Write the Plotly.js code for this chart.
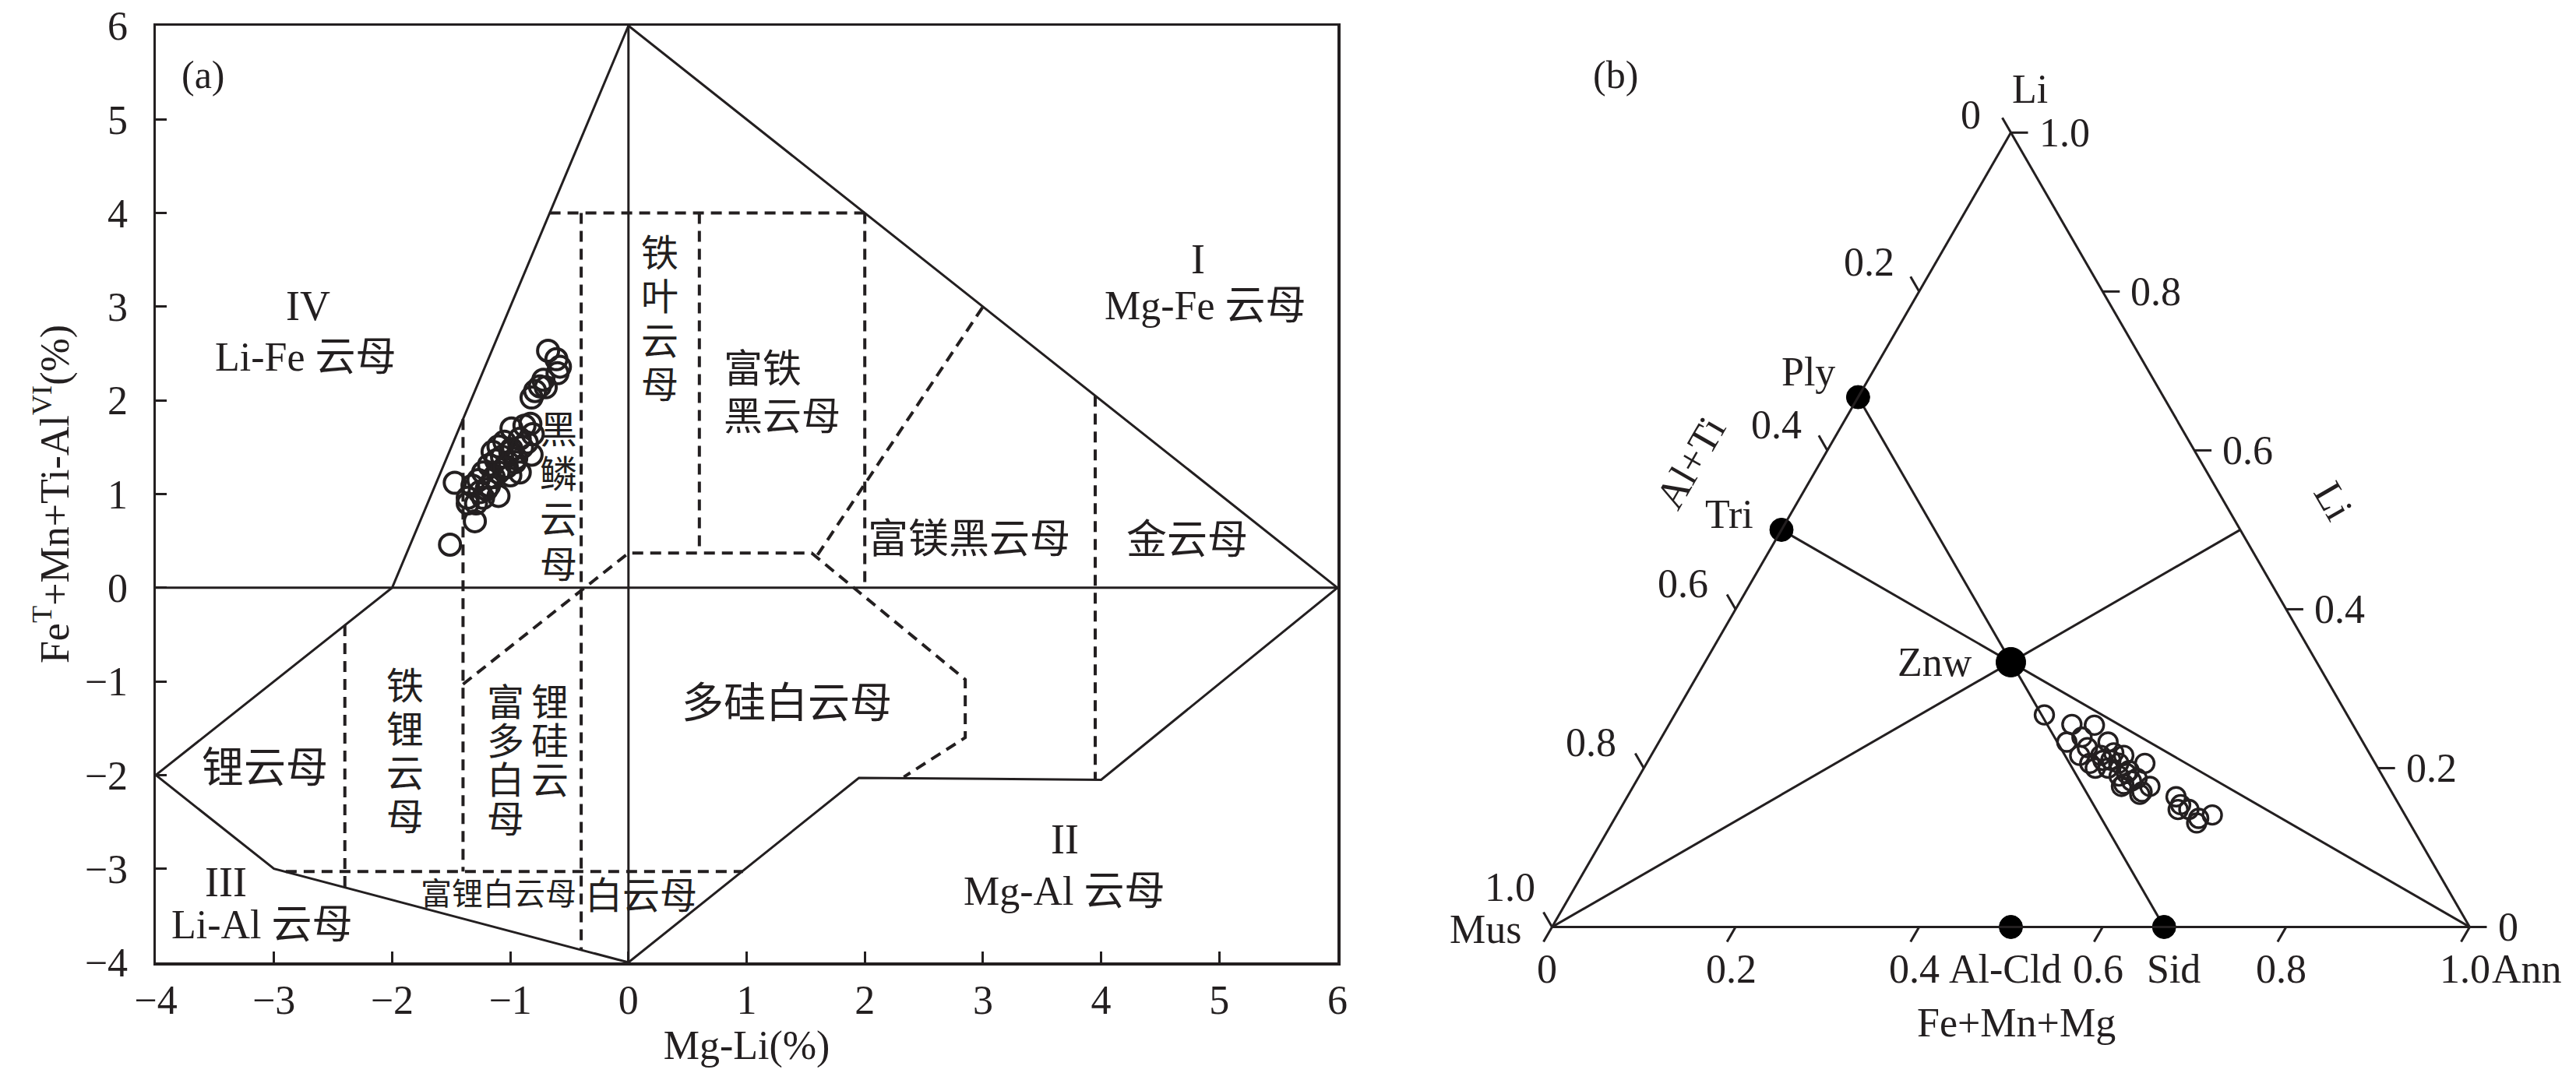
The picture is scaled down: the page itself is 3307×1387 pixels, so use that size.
<!DOCTYPE html>
<html><head><meta charset="utf-8">
<script src="https://cdn.plot.ly/plotly-3.0.1.min.js"></script>
<style>html,body{margin:0;padding:0;background:#fff}#chart{width:3307px;height:1387px}</style>
</head><body><div id="chart"></div>
<script>
const INK = '#231f20';
const FONT = '"Liberation Serif", "Times New Roman", "Noto Sans CJK SC", serif';

// ---------------- Panel (a): Mg-Li vs FeT+Mn+Ti-AlVI ----------------
const mgLi = [-0.68,-0.61,-0.58,-0.60,-0.72,-0.75,-0.79,-0.82,-0.70,
  -0.83,-0.88,-0.99,-0.81,-1.05,-0.92,-0.82,-1.10,-0.99,-1.07,-0.96,-1.18,-0.92,-1.10,-1.23,-1.03,
  -1.14,-1.27,-1.18,-1.32,-1.10,-1.23,-1.36,-1.47,-1.29,-1.36,-1.30,-1.51,
  -1.00,-0.95,-1.12,-1.05,-0.90,-1.15,-1.20,-1.26,-0.86,-1.00];
const feMnTiAl = [2.53,2.44,2.36,2.29,2.22,2.15,2.10,2.03,2.14,
  1.75,1.73,1.70,1.64,1.56,1.59,1.42,1.51,1.48,1.40,1.34,1.31,1.23,1.23,1.23,1.29,
  1.18,1.15,1.09,1.09,0.98,0.96,0.96,1.12,0.90,0.90,0.71,0.46,
  1.45,1.38,1.36,1.28,1.50,1.45,1.05,1.02,1.55,1.20];

// field boundaries (solid)
const solidX = [-2,0,6,4,1.95,0,-3,-4,-2, null, 0,0, null, -4,6];
const solidY = [0,6,0,-2.05,-2.03,-4,-3,-2,0, null, -4,6, null, 0,0];
// field boundaries (dashed)
const dashX = [-0.667,2, null, -0.4,-0.4, null, 0.6,0.6, null,
  -1.4,0,1.55,2.85,2.85,2.33, null, 1.6,3, null, 2,2, null, 3.95,3.95, null,
  -1.4,-1.4, null, -2.4,-2.4, null, -2.9,0.97];
const dashY = [4,4, null, 4,-3.867, null, 4,0.37, null,
  -1.03,0.37,0.37,-0.98,-1.6,-2.02, null, 0.35,3, null, 4,0, null, 2.05,-2.05, null,
  1.8,-3.03, null, -0.4,-3.2, null, -3.03,-3.03];

// field labels (horizontal)
const hLabels = [
  {t:'(a)', x:-3.6, y:5.48, s:50},
  {t:'IV', x:-2.71, y:3.01, s:54},
  {t:'Li-Fe 云母', x:-2.73, y:2.46, s:52},
  {t:'I', x:4.82, y:3.51, s:54},
  {t:'Mg-Fe 云母', x:4.88, y:3.01, s:52},
  {t:'富铁', x:0.79, y:2.33, s:50, left:true},
  {t:'黑云母', x:0.79, y:1.83, s:50, left:true},
  {t:'富镁黑云母', x:2.88, y:0.52, s:52},
  {t:'金云母', x:4.73, y:0.51, s:52},
  {t:'多硅白云母', x:1.34, y:-1.24, s:54},
  {t:'锂云母', x:-3.08, y:-1.93, s:54},
  {t:'III', x:-3.41, y:-3.14, s:54},
  {t:'Li-Al 云母', x:-3.10, y:-3.60, s:52},
  {t:'II', x:3.69, y:-2.69, s:54},
  {t:'Mg-Al 云母', x:3.69, y:-3.24, s:52},
  {t:'富锂白云母', x:-1.10, y:-3.27, s:40},
  {t:'白云母', x:0.11, y:-3.29, s:48}
];
// field labels (vertical, one character per line)
const vLabels = [
  {t:'铁叶云母', x:0.265, y0:3.57, step:0.47},
  {t:'黑鳞云母', x:-0.594, y0:1.685, step:0.48},
  {t:'铁锂云母', x:-1.89, y0:-1.05, step:0.467},
  {t:'富多白母', x:-1.04, y0:-1.23, step:0.415},
  {t:'锂硅云', x:-0.665, y0:-1.23, step:0.415}
];

// ---------------- Panel (b): Li - (Al+Ti) - (Fe+Mn+Mg) ternary ----------------
const triLi   = [0.267,0.255,0.254,0.233,0.239,0.226,0.216,0.206,0.233,0.219,0.216,0.200,0.190,0.197,0.206,0.177,0.187,0.177,0.170,0.167,0.216,
                 0.164,0.154,0.148,0.131,0.138,0.148,0.141,
                 0.210,0.206,0.193,0.184,0.180,0.210,0.200];
const triAlTi = [0.330,0.306,0.282,0.323,0.303,0.304,0.317,0.311,0.278,0.278,0.269,0.294,0.287,0.273,0.251,0.291,0.269,0.260,0.272,0.276,0.294,
                 0.238,0.238,0.232,0.232,0.229,0.244,0.210,
                 0.286,0.279,0.277,0.277,0.287,0.295,0.308];
const triFMM  = [0.403,0.439,0.464,0.445,0.458,0.471,0.467,0.483,0.490,0.502,0.515,0.506,0.523,0.531,0.543,0.532,0.544,0.563,0.558,0.557,0.490,
                 0.598,0.608,0.620,0.637,0.642,0.609,0.649,
                 0.504,0.514,0.529,0.540,0.533,0.496,0.492];

// end-members
const emName = ['Ply','Tri','Znw','Al-Cld','Sid'];
const emLi   = [0.667,0.5,0.333,0,0];
const emAlTi = [0.333,0.5,0.333,0.5,0.333];
const emFMM  = [0,0,0.333,0.5,0.667];
const emSize = [30,30,38,30,30];
// tie lines: Ply-Sid, Tri-Ann, Mus-(Li:Ann 1:1)
const tieLi   = [0.667,0, null, 0.5,0, null, 0,0.5];
const tieAlTi = [0.333,0.333, null, 0.5,0, null, 1,0];
const tieFMM  = [0,0.667, null, 0,1, null, 0,0.5];
// edge tick values / labels
const ternTickVals = [0,0.2,0.4,0.6,0.8,1.0];
const ternTickText = ['0','0.2','0.4','0.6','0.8','1.0'];

// ---------------- geometry ----------------
const FW = 3307, FH = 1387;
const TRI_L = 1992.5, TRI_W = 1178, TRI_BASE = 1190.5;
const TRI_H = TRI_W*Math.sqrt(3)/2;
const ternDomain = {x:[TRI_L/FW, (TRI_L+TRI_W)/FW], y:[1-TRI_BASE/FH, 1-(TRI_BASE-TRI_H)/FH]};
// position of a ternary point (a=Li top, b=Al+Ti left, c=FMM right) in paper coords, with px offset
function tp(a,b,c,dx,dy){ const s=a+b+c; a/=s; c/=s;
  return {x:(TRI_L+(c+a/2)*TRI_W+(dx||0))/FW, y:1-((TRI_BASE-a*TRI_H)+(dy||0))/FH}; }

const annotations = [];
const shapes = [];
function txt(o){ annotations.push(Object.assign({showarrow:false, xanchor:'center', yanchor:'middle', font:{family:FONT,size:52,color:INK}}, o)); }

hLabels.forEach(l => txt({xref:'x', yref:'y', x:l.x, y:l.y, text:l.t, font:{family:FONT,size:l.s,color:INK}, xanchor:l.left?'left':'center'}));
vLabels.forEach(v => Array.from(v.t).forEach((ch,i) => txt({xref:'x', yref:'y', x:v.x, y:v.y0-i*v.step, text:ch, font:{family:FONT,size:48,color:INK}})));

// ternary edge ticks & labels
const TL = 22, s3 = Math.sqrt(3)/2;
const leftLabOff = [[-37,-23],[-30,-38],[-31,-33],[-33,-33],[-33,-33],[-20,-51]];
ternTickVals.forEach((v,i) => {
  // left edge: Al+Ti
  let p = tp(1-v, v, 0), q = tp(1-v, v, 0, -0.5*TL, -s3*TL), L = tp(1-v, v, 0, leftLabOff[i][0], leftLabOff[i][1]);
  shapes.push({type:'line', xref:'paper', yref:'paper', x0:p.x, y0:p.y, x1:q.x, y1:q.y, line:{color:INK,width:3}});
  txt({xref:'paper', yref:'paper', x:L.x, y:L.y, text:ternTickText[i], xanchor:'right'});
  // bottom edge: Fe+Mn+Mg
  p = tp(0, 1-v, v); q = tp(0, 1-v, v, -0.5*TL, s3*TL); L = tp(0, 1-v, v, -6, 54);
  shapes.push({type:'line', xref:'paper', yref:'paper', x0:p.x, y0:p.y, x1:q.x, y1:q.y, line:{color:INK,width:3}});
  txt({xref:'paper', yref:'paper', x:L.x, y:L.y, text:ternTickText[i]});
  // right edge: Li
  p = tp(v, 0, 1-v); q = tp(v, 0, 1-v, TL, 0); L = tp(v, 0, 1-v, 34, 0);
  shapes.push({type:'line', xref:'paper', yref:'paper', x0:p.x, y0:p.y, x1:q.x, y1:q.y, line:{color:INK,width:3}});
  txt({xref:'paper', yref:'paper', x:L.x, y:L.y, text:ternTickText[i], xanchor:'left'});
});
// corner and end-member names
let P;
P = tp(1,0,0,24,-56); txt({xref:'paper',yref:'paper',x:P.x,y:P.y,text:'Li'});
P = tp(0,1,0,-38,3);  txt({xref:'paper',yref:'paper',x:P.x,y:P.y,text:'Mus',xanchor:'right'});
P = tp(0,0,1,26,54);  txt({xref:'paper',yref:'paper',x:P.x,y:P.y,text:'Ann',xanchor:'left'});
const emLabOff = [[-27,-33,'right'],[-34,-20,'right'],[-48,0,'right'],[-8,54,'center'],[12,54,'center']];
emName.forEach((n,i) => { const o = emLabOff[i]; const q = tp(emLi[i], emAlTi[i], emFMM[i], o[0], o[1]);
  txt({xref:'paper', yref:'paper', x:q.x, y:q.y, text:n, xanchor:o[2]}); });
// ternary axis titles
txt({xref:'paper', yref:'paper', x:2170/FW, y:1-594/FH, text:'Al+Ti', textangle:-60});
txt({xref:'paper', yref:'paper', x:2996/FW, y:1-643/FH, text:'Li', textangle:60});
txt({xref:'paper', yref:'paper', x:2588/FW, y:1-1313/FH, text:'Fe+Mn+Mg'});
txt({xref:'paper', yref:'paper', x:2074/FW, y:1-96/FH, text:'(b)', font:{family:FONT,size:50,color:INK}});

const traces = [
  {type:'scatter', x:solidX, y:solidY, mode:'lines', line:{color:INK, width:3}, connectgaps:false, hoverinfo:'skip', showlegend:false},
  {type:'scatter', x:dashX, y:dashY, mode:'lines', line:{color:INK, width:4, dash:'14px,9px'}, connectgaps:false, hoverinfo:'skip', showlegend:false},
  {type:'scatter', x:mgLi, y:feMnTiAl, mode:'markers', marker:{symbol:'circle-open', size:27, opacity:1, color:INK, line:{width:4, color:INK}}, showlegend:false},
  {type:'scatterternary', subplot:'ternary', a:tieLi, b:tieAlTi, c:tieFMM, mode:'lines', line:{color:INK, width:3}, connectgaps:false, showlegend:false},
  {type:'scatterternary', subplot:'ternary', a:triLi, b:triAlTi, c:triFMM, mode:'markers', marker:{symbol:'circle-open', size:24, opacity:1, color:INK, line:{width:3.4, color:INK}}, showlegend:false},
  {type:'scatterternary', subplot:'ternary', a:emLi, b:emAlTi, c:emFMM, mode:'markers', cliponaxis:false, marker:{symbol:'circle', size:emSize, opacity:1, color:'#000000', line:{width:1, color:'#000000'}}, showlegend:false}
];

const ternAxis = {min:0, showgrid:false, showticklabels:false, ticks:'', linecolor:INK, linewidth:3, title:{text:''}};
const layout = {
  width:FW, height:FH, margin:{l:0,r:0,t:0,b:0}, paper_bgcolor:'#fff', plot_bgcolor:'rgba(0,0,0,0)',
  showlegend:false, hovermode:false, font:{family:FONT, color:INK, size:50},
  xaxis:{domain:[200/FW, 1717/FW], range:[-4,6], dtick:1, tick0:0, showgrid:false, zeroline:false,
    showline:true, mirror:true, linecolor:INK, linewidth:3.5, ticks:'inside', ticklen:14, tickwidth:3, tickcolor:INK,
    ticklabelstandoff:0, tickfont:{family:FONT,size:52,color:INK},
    title:{text:'Mg-Li(%)', font:{family:FONT,size:52,color:INK}, standoff:12}},
  yaxis:{domain:[1-1236/FH, 1-33/FH], range:[-4,6], dtick:1, tick0:0, showgrid:false, zeroline:false,
    showline:true, mirror:true, linecolor:INK, linewidth:3.5, ticks:'inside', ticklen:14, tickwidth:3, tickcolor:INK,
    ticklabelstandoff:22, tickfont:{family:FONT,size:52,color:INK},
    title:{text:'Fe<sup>T</sup>+Mn+Ti-Al<sup>VI</sup>(%)', font:{family:FONT,size:52,color:INK}, standoff:4}},
  ternary:{domain:ternDomain, sum:1, bgcolor:'rgba(0,0,0,0)', aaxis:ternAxis, baxis:ternAxis, caxis:ternAxis},
  annotations:annotations, shapes:shapes
};
Plotly.newPlot('chart', traces, layout, {staticPlot:true, displayModeBar:false});
</script></body></html>
